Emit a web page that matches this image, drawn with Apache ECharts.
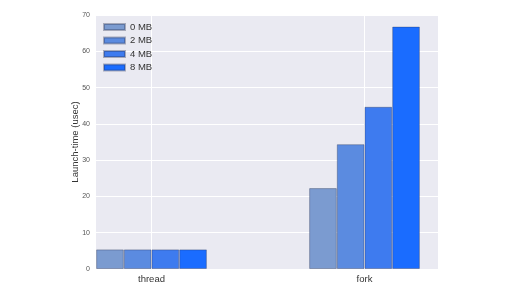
<!DOCTYPE html>
<html><head><meta charset="utf-8">
<script src="https://cdn.jsdelivr.net/npm/echarts@6/dist/echarts.min.js"></script>
<style>html,body{margin:0;padding:0;background:#fff}#c{width:512px;height:288px}</style>
</head><body><div id="c"></div>
<script>
const categories = ['thread', 'fork'];
const seriesNames = ['0 MB', '2 MB', '4 MB', '8 MB'];
const values0 = [5.4, 22.3];
const values2 = [5.4, 34.4];
const values4 = [5.4, 44.7];
const values8 = [5.4, 66.8];
const yTicks = [0, 10, 20, 30, 40, 50, 60, 70];
const colors = ['#7b9bd0', '#5b8be0', '#3e7bef', '#1a6cff'];
const allValues = [values0, values2, values4, values8];

const chart = echarts.init(document.getElementById('c'), null, {renderer: 'canvas'});
const yMin = yTicks[0], yMax = yTicks[yTicks.length - 1], yInt = yTicks[1] - yTicks[0];

const series = seriesNames.map((name, i) => ({
  name, type: 'bar', xAxisIndex: 1, yAxisIndex: 1,
  data: allValues[i], barGap: '0%', barCategoryGap: '48%', z: 2,
  itemStyle: {color: colors[i], borderColor: 'rgba(40,50,80,0.35)', borderWidth: 1}
}));
series.push({
  type: 'line', xAxisIndex: 1, yAxisIndex: 1, data: [], silent: true,
  markLine: {z: 1, silent: true, symbol: ['none', 'none'], label: {show: false},
    lineStyle: {color: '#ffffff', width: 1, type: 'solid'},
    data: categories.map(c => ({xAxis: c}))}
});

chart.setOption({
  animation: false,
  grid: [
    {left: 96, right: 74, top: 15, bottom: 19, show: true, backgroundColor: '#eaeaf2', borderWidth: 0, z: 0},
    {left: 45, right: 41, top: 15, bottom: 19, show: false}
  ],
  legend: {
    orient: 'vertical', left: 103, top: 22, padding: 0, itemWidth: 21, itemHeight: 6, itemGap: 3.5,
    icon: 'rect', textStyle: {fontSize: 9.5, color: '#333', fontFamily: 'Liberation Sans'},
    data: seriesNames
  },
  xAxis: [
    {gridIndex: 0, type: 'value', show: false, min: 0, max: 1},
    {gridIndex: 1, type: 'category', data: categories,
      axisLine: {show: false}, axisTick: {show: false}, splitLine: {show: false},
      axisLabel: {fontSize: 9.5, color: '#333', margin: 5, fontFamily: 'Liberation Sans'}}
  ],
  yAxis: [
    {gridIndex: 0, type: 'value', min: yMin, max: yMax, interval: yInt,
      name: 'Launch-time (usec)', nameLocation: 'middle', nameGap: 16, nameMoveOverlap: false,
      nameTextStyle: {fontSize: 9.5, color: '#333', fontFamily: 'Liberation Sans'},
      axisLine: {show: false}, axisTick: {show: false},
      axisLabel: {fontSize: 7, color: '#555', margin: 6, fontFamily: 'Liberation Sans'},
      splitLine: {show: true, lineStyle: {color: '#ffffff', width: 1}}},
    {gridIndex: 1, type: 'value', min: yMin, max: yMax, interval: yInt, show: false, splitLine: {show: false}}
  ],
  series
});
</script></body></html>
